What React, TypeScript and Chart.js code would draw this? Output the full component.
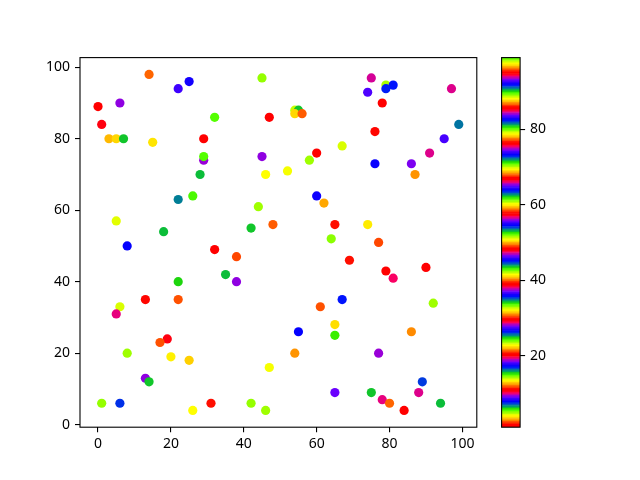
import React, { useEffect, useRef } from "react";
import { Chart, registerables } from "chart.js";

Chart.register(...registerables);

// ---- data ----
const xValues = [
  0, 1, 3, 5, 7, 6, 14, 15, 22, 25,
  32, 29, 29, 29, 28, 22, 26, 5, 18, 42,
  44, 45, 75, 79, 81, 79, 74, 78, 97, 99,
  95, 91, 86, 87, 76, 76, 47, 54, 55, 54,
  56, 45, 46, 52, 58, 60, 67, 60, 62, 48,
  65, 74, 64, 77, 69, 79, 81, 90, 92, 67,
  61, 65, 65, 55, 86, 54, 77, 47, 89, 65,
  75, 78, 88, 80, 84, 94, 42, 46, 8, 32,
  38, 35, 38, 22, 13, 22, 6, 5, 19, 17,
  8, 20, 25, 13, 14, 1, 6, 31, 26,
];
const yValues = [
  89, 84, 80, 80, 80, 90, 98, 79, 94, 96,
  86, 80, 74, 75, 70, 63, 64, 57, 54, 55,
  61, 97, 97, 95, 95, 94, 93, 90, 94, 84,
  80, 76, 73, 70, 82, 73, 86, 88, 88, 87,
  87, 75, 70, 71, 74, 76, 78, 64, 62, 56,
  56, 56, 52, 51, 46, 43, 41, 44, 34, 35,
  33, 28, 25, 26, 26, 20, 20, 16, 12, 9,
  9, 7, 9, 6, 4, 6, 6, 4, 50, 49,
  47, 42, 40, 40, 35, 35, 33, 31, 24, 23,
  20, 19, 18, 13, 12, 6, 6, 6, 4,
];
const cValues = [
  1, 76, 22, 50, 34, 37, 40, 41, 55, 36,
  99, 20, 56, 52, 53, 44, 24, 51, 6, 81,
  42, 61, 75, 70, 17, 45, 46, 95, 94, 16,
  74, 47, 93, 87, 39, 92, 48, 14, 81, 97,
  21, 84, 88, 60, 89, 67, 23, 64, 31, 21,
  58, 13, 33, 77, 11, 95, 10, 48, 42, 17,
  49, 69, 15, 73, 68, 87, 56, 60, 82, 9,
  34, 66, 94, 40, 20, 53, 61, 89, 73, 67,
  77, 6, 37, 90, 39, 49, 23, 19, 76, 49,
  42, 32, 78, 84, 81, 61, 54, 11, 88,
];
const xTicks = [0, 20, 40, 60, 80, 100];
const yTicks = [0, 20, 40, 60, 80, 100];
const cbTicks = [20, 40, 60, 80];

// ---- layout ----
const W = 640;
const H = 480;
const axL = 80;
const axR = 476.8;
const axT = 57.6;
const axB = 427.2;
const cbL = 501.6;
const cbR = 520.1;
const FONT = { family: "'Noto Sans', 'DejaVu Sans', sans-serif", size: 14 };
const LUT_N = 256;

const cMin = Math.min(...cValues);
const cMax = Math.max(...cValues);

function clamp01(v: number) {
  return Math.max(0, Math.min(1, v));
}

// matplotlib "prism" colormap, 256-entry lookup table
function prismAt(t: number): string {
  const a = t * 20.9;
  const r = clamp01(0.75 * Math.sin((a + 0.25) * Math.PI) + 0.67);
  const g = clamp01(0.75 * Math.sin((a - 0.25) * Math.PI) + 0.33);
  const b = clamp01(-1.1 * Math.sin(a * Math.PI));
  return `rgb(${Math.round(r * 255)},${Math.round(g * 255)},${Math.round(b * 255)})`;
}
function lutIndex(c: number) {
  const x = (c - cMin) / (cMax - cMin);
  return Math.max(0, Math.min(LUT_N - 1, Math.floor(x * LUT_N)));
}
function colorFor(c: number) {
  return prismAt(lutIndex(c) / (LUT_N - 1));
}

function margin(vals: number[]) {
  const lo = Math.min(...vals);
  const hi = Math.max(...vals);
  const m = (hi - lo) * 0.05;
  return [lo - m, hi + m];
}

const framePlugin = {
  id: "frame",
  afterDraw(chart: any) {
    const { ctx, chartArea } = chart;
    ctx.save();
    ctx.strokeStyle = "#000";
    ctx.lineWidth = 1.1;
    ctx.strokeRect(
      chartArea.left,
      chartArea.top,
      chartArea.right - chartArea.left,
      chartArea.bottom - chartArea.top
    );
    ctx.restore();
  },
};

const gridOpts = {
  drawOnChartArea: false,
  drawTicks: true,
  tickLength: 5,
  color: "#000",
  lineWidth: 1.1,
};

export default function App() {
  const mainRef = useRef<HTMLCanvasElement>(null);
  const cbRef = useRef<HTMLCanvasElement>(null);

  useEffect(() => {
    const [xMin, xMax] = margin(xValues);
    const [yMin, yMax] = margin(yValues);

    const main = new Chart(mainRef.current as HTMLCanvasElement, {
      type: "scatter",
      data: {
        datasets: [
          {
            data: xValues.map((x, i) => ({ x, y: yValues[i] })),
            pointBackgroundColor: cValues.map(colorFor),
            pointBorderWidth: 0,
            pointRadius: 4.6,
            pointHoverRadius: 4.6,
          },
        ],
      },
      options: {
        responsive: false,
        animation: false,
        events: [],
        layout: { padding: { left: 0, top: axT, right: W - axR, bottom: 0 } },
        plugins: { legend: { display: false }, tooltip: { enabled: false } },
        scales: {
          x: {
            type: "linear",
            min: xMin,
            max: xMax,
            afterBuildTicks: (s: any) => {
              s.ticks = xTicks.map((v) => ({ value: v }));
            },
            afterFit: (s: any) => {
              s.height = H - axB;
            },
            grid: gridOpts,
            border: { display: false },
            ticks: { color: "#000", font: FONT, padding: 3, maxRotation: 0, autoSkip: false },
          },
          y: {
            type: "linear",
            min: yMin,
            max: yMax,
            afterBuildTicks: (s: any) => {
              s.ticks = yTicks.map((v) => ({ value: v }));
            },
            afterFit: (s: any) => {
              s.width = axL;
            },
            grid: gridOpts,
            border: { display: false },
            ticks: { color: "#000", font: FONT, padding: 5, autoSkip: false },
          },
        },
      },
      plugins: [framePlugin],
    } as any);

    const segs = Array.from({ length: LUT_N }, (_, i) => i);
    const cb = new Chart(cbRef.current as HTMLCanvasElement, {
      type: "bar",
      data: {
        labels: [""],
        datasets: segs.map((i) => ({
          data: [[cMin + ((cMax - cMin) * i) / LUT_N, cMin + ((cMax - cMin) * (i + 1)) / LUT_N]],
          backgroundColor: prismAt(i / (LUT_N - 1)),
          borderWidth: 0,
          grouped: false,
          barPercentage: 1,
          categoryPercentage: 1,
        })),
      },
      options: {
        responsive: false,
        animation: false,
        events: [],
        layout: { padding: { left: cbL, top: axT, right: 0, bottom: H - axB } },
        plugins: { legend: { display: false }, tooltip: { enabled: false } },
        scales: {
          x: { display: false },
          y: {
            type: "linear",
            position: "right",
            min: cMin,
            max: cMax,
            afterBuildTicks: (s: any) => {
              s.ticks = cbTicks.map((v) => ({ value: v }));
            },
            afterFit: (s: any) => {
              s.width = W - cbR;
            },
            grid: gridOpts,
            border: { display: false },
            ticks: { color: "#000", font: FONT, padding: 5, autoSkip: false },
          },
        },
      },
      plugins: [framePlugin],
    } as any);

    return () => {
      main.destroy();
      cb.destroy();
    };
  }, []);

  return (
    <div style={{ position: "fixed", left: 0, top: 0, width: W, height: H, background: "#fff" }}>
      <canvas ref={mainRef} width={W} height={H} style={{ position: "absolute", left: 0, top: 0 }} />
      <canvas ref={cbRef} width={W} height={H} style={{ position: "absolute", left: 0, top: 0 }} />
    </div>
  );
}
